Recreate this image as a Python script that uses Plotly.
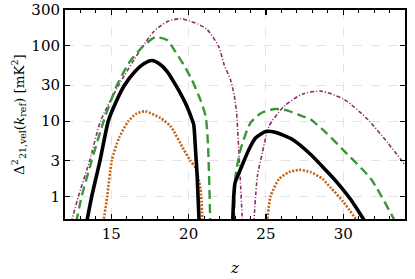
import numpy as np
import plotly.graph_objects as go

# ---- data (z, Delta^2 in mK^2) ----
# black solid
black1_z = [13.40, 13.73, 14.27, 14.80, 15.30, 15.85, 16.50, 17.10, 17.63, 18.10, 18.60, 19.25, 19.90, 20.22, 20.33, 20.45, 20.55, 20.68]
black1_v = [0.45, 1.0, 3.0, 10.0, 18.0, 30.0, 45.0, 58.0, 64.0, 58.0, 46.0, 28.0, 15.5, 10.5, 9.0, 4.0, 1.9, 0.45]
black2_z = [22.85, 22.92, 23.00, 23.36, 23.90, 24.34, 24.99, 25.60, 26.72, 27.90, 28.90, 29.64, 30.50, 31.45]
black2_v = [0.45, 1.0, 1.5, 2.3, 4.2, 6.0, 7.3, 7.1, 5.7, 3.6, 2.2, 1.5, 0.9, 0.45]

# green dashed
green1_z = [12.72, 13.08, 13.73, 14.50, 15.36, 16.20, 17.08, 17.84, 18.60, 19.14, 19.68, 20.22, 20.77, 21.10, 21.25, 21.40]
green1_v = [0.45, 1.0, 3.0, 10.0, 30.0, 62.0, 100.0, 130.0, 120.0, 84.0, 56.0, 35.0, 19.0, 11.6, 5.0, 0.45]
green2_z = [22.93, 23.04, 23.36, 24.00, 24.70, 25.60, 26.30, 27.37, 27.90, 28.90, 30.07, 31.80, 33.40]
green2_v = [0.45, 1.9, 4.2, 9.5, 12.8, 14.5, 14.0, 11.6, 10.5, 7.0, 4.0, 1.7, 0.45]

# purple dash-dot
purple1_z = [12.40, 12.87, 13.60, 14.30, 15.47, 16.87, 17.73, 18.60, 19.47, 20.00, 20.60, 21.20, 21.95, 22.30, 22.70, 22.95, 23.10, 23.20, 23.30, 23.48]
purple1_v = [0.45, 1.0, 3.0, 10.0, 30.0, 88.0, 154.0, 210.0, 230.0, 216.0, 195.0, 165.0, 98.0, 56.0, 36.0, 22.0, 13.0, 6.0, 2.5, 0.45]
purple2_z = [24.22, 24.45, 24.77, 25.20, 26.18, 27.37, 28.60, 30.07, 31.60, 32.90, 34.08]
purple2_v = [0.45, 1.86, 3.8, 8.6, 15.8, 23.0, 25.0, 19.4, 10.5, 5.1, 2.5]

# orange dotted
orange1_z = [14.48, 14.73, 15.03, 15.50, 16.10, 16.60, 17.20, 18.17, 18.82, 19.68, 20.10, 20.44, 20.77, 20.90]
orange1_v = [0.45, 1.0, 3.0, 6.0, 10.0, 12.5, 13.5, 11.0, 8.6, 4.2, 3.0, 2.4, 1.25, 0.45]
orange2_z = [25.08, 25.30, 25.85, 26.50, 27.15, 27.90, 28.67, 29.20, 30.00, 30.98]
orange2_v = [0.45, 1.0, 1.7, 2.1, 2.25, 2.1, 1.7, 1.3, 0.85, 0.45]

x_ticks = [15, 20, 25, 30]
y_ticks = [1, 3, 10, 30, 100, 300]
y_tick_text = ["1", "3", "10", "30", "100", "300"]

FONT = "DejaVu Serif"

fig = go.Figure()

def add(zs, vs, color, width, dash):
    fig.add_trace(go.Scatter(x=zs, y=vs, mode="lines",
                             line=dict(color=color, width=width, dash=dash, shape="spline", smoothing=0.6),
                             showlegend=False, hoverinfo="skip"))

PURPLE = "#8e2d6e"
GREEN = "#3b9638"
ORANGE = "#c4600e"

add(purple1_z, purple1_v, PURPLE, 1.6, "4px,2px,1px,2px")
add(purple2_z, purple2_v, PURPLE, 1.6, "4px,2px,1px,2px")
add(green1_z, green1_v, GREEN, 2.4, "9px,5px")
add(green2_z, green2_v, GREEN, 2.4, "9px,5px")
add(orange1_z, orange1_v, ORANGE, 2.6, "2px,1.6px")
add(orange2_z, orange2_v, ORANGE, 2.6, "2px,1.6px")
add(black1_z, black1_v, "black", 3.6, "solid")
add(black2_z, black2_v, "black", 3.6, "solid")

fig.update_layout(
    width=415, height=279,
    margin=dict(l=65, r=10, t=10, b=60, pad=0, autoexpand=False),
    paper_bgcolor="white", plot_bgcolor="white",
    font=dict(family=FONT, size=15, color="black"),
    hovermode=False,
)

fig.update_xaxes(
    range=[12, 34], tickvals=x_ticks, automargin=False,
    ticks="inside", ticklen=5, tickwidth=1.2, tickcolor="black",
    minor=dict(dtick=1, tick0=0, ticks="inside", ticklen=3, tickwidth=1, tickcolor="black", showgrid=False),
    showline=True, linecolor="black", linewidth=2, mirror="allticks",
    showgrid=True, gridcolor="#e3e3e3", griddash="dash", gridwidth=1,
    zeroline=False,
    title=dict(text="<i>z</i>", standoff=20, font=dict(family=FONT, size=15)),
    tickfont=dict(family=FONT, size=15),
)
fig.update_yaxes(
    type="log", range=[np.log10(0.5), np.log10(300)], automargin=False,
    tickvals=y_ticks, ticktext=y_tick_text,
    ticks="inside", ticklen=5, tickwidth=1.2, tickcolor="black",
    showline=True, linecolor="black", linewidth=2, mirror="allticks",
    showgrid=True, gridcolor="#e3e3e3", griddash="dash", gridwidth=1,
    zeroline=False,
    title=dict(text="Δ<sup>2</sup><sub>21,vel</sub>(<i>k</i><sub>ref</sub>) [mK<sup>2</sup>]",
               standoff=4, font=dict(family=FONT, size=13.5)),
    tickfont=dict(family=FONT, size=15),
)

fig.write_html("out.html",
               config={"displayModeBar": False, "staticPlot": True},
               post_script="document.body.style.margin='0';document.body.style.overflow='hidden';")
